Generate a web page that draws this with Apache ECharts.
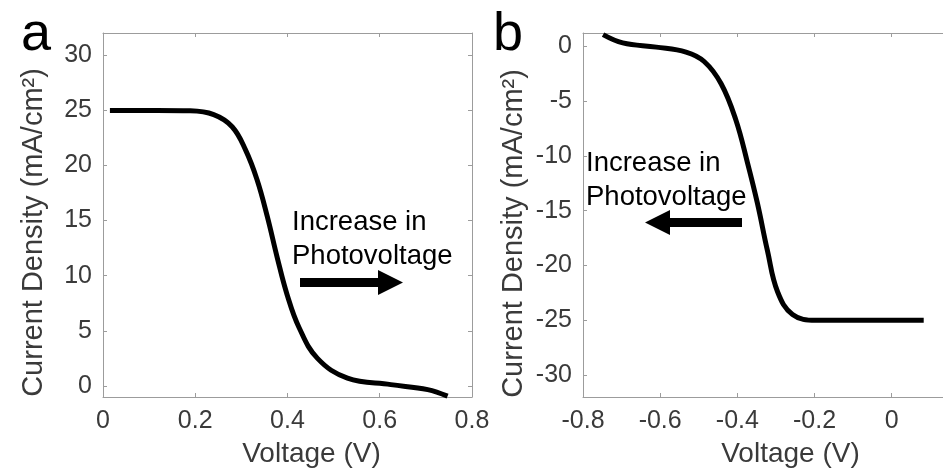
<!DOCTYPE html>
<html>
<head>
<meta charset="utf-8">
<title>Current density vs voltage</title>
<script src="https://cdn.jsdelivr.net/npm/echarts@6/dist/echarts.min.js"></script>
<style>
  html, body { margin: 0; padding: 0; background: #ffffff; }
  #chart { width: 943px; height: 473px; }
</style>
</head>
<body>
<div id="chart"></div>
<script>
// Panel a: photocurrent density (mA/cm^2) against applied voltage (V)
const panelAVoltage = [0.015, 0.117, 0.189, 0.240, 0.280, 0.309, 0.334, 0.356, 0.378, 0.399, 0.425, 0.465, 0.530, 0.624, 0.704, 0.747];
const panelACurrent = [24.97, 24.97, 24.94, 24.6, 23.5, 21.4, 18.7, 15.4, 11.6, 8.3, 5.3, 2.5, 0.71, 0.12, -0.33, -0.92];

// Panel b: the mirrored (cathodic) curve
const panelBVoltage = [-0.748, -0.697, -0.610, -0.533, -0.486, -0.442, -0.404, -0.374, -0.348, -0.322, -0.296, -0.257, -0.197, -0.094, 0.083];
const panelBCurrent = [1.05, 0.30, -0.09, -0.54, -1.40, -3.43, -6.71, -10.59, -14.32, -18.65, -22.38, -24.47, -25.0, -25.0, -25.0];

// Tick values
const panelAXTicks = [0, 0.2, 0.4, 0.6, 0.8];
const panelAYTicks = [0, 5, 10, 15, 20, 25, 30];
const panelBXTicks = [-0.8, -0.6, -0.4, -0.2, 0];
const panelBYTicks = [-30, -25, -20, -15, -10, -5, 0];

const xTitle = 'Voltage (V)';
const yTitle = 'Current Density (mA/cm²)';
const noteText = 'Increase in\nPhotovoltage';

const FONT = "'Liberation Sans', Arial, Helvetica, sans-serif";
const frameColor = '#9c9c9c';
const labelColor = '#3a3a3a';

const zip = (xs, ys) => xs.map((x, i) => [x, ys[i]]);

function axisPair(gridIndex, range, ticks, dim, opts) {
  const common = {
    gridIndex: gridIndex,
    type: 'value',
    min: range[0],
    max: range[1],
    splitLine: { show: false },
    axisLine: { show: true, onZero: false, lineStyle: { color: frameColor, width: 1 } },
    axisTick: { show: true, inside: true, length: 4, customValues: ticks, lineStyle: { color: frameColor, width: 1 } }
  };
  const main = Object.assign({}, common, {
    position: dim === 'x' ? 'bottom' : 'left',
    axisLabel: {
      show: true,
      customValues: ticks,
      color: labelColor,
      fontFamily: FONT,
      fontSize: 25,
      margin: dim === 'x' ? 12 : 11
    },
    name: opts.name,
    nameLocation: 'middle',
    nameGap: opts.nameGap,
    nameTextStyle: {
      color: labelColor,
      fontFamily: FONT,
      fontSize: opts.nameSize,
      padding: opts.namePadding
    }
  });
  const mirror = Object.assign({}, common, {
    position: dim === 'x' ? 'top' : 'right',
    axisLabel: { show: false }
  });
  if (opts.hideMirror) {
    mirror.show = false;
  }
  return [main, mirror];
}

const xAxes = [].concat(
  axisPair(0, [0, 0.8], panelAXTicks, 'x', { name: xTitle, nameGap: 43, nameSize: 28, namePadding: [0, 0, 0, 48] }),
  axisPair(1, [-0.8, 0.133], panelBXTicks, 'x', { name: xTitle, nameGap: 43, nameSize: 28, namePadding: [0, 0, 0, 55] })
);
const yAxes = [].concat(
  axisPair(0, [-1, 32], panelAYTicks, 'y', { name: yTitle, nameGap: 55, nameSize: 29, namePadding: [0, 35, 0, 0] }),
  axisPair(1, [-32, 1.2], panelBYTicks, 'y', { name: yTitle, nameGap: 55, nameSize: 29, namePadding: [0, 37, 0, 0], hideMirror: true })
);

function curve(xIdx, yIdx, xs, ys) {
  return {
    type: 'line',
    xAxisIndex: xIdx,
    yAxisIndex: yIdx,
    data: zip(xs, ys),
    showSymbol: false,
    smooth: 0.4,
    clip: false,
    lineStyle: { color: '#000000', width: 5, join: 'round' },
    z: 5
  };
}

function arrow(tipX, tailX, cy, headLen, headHalf, shaftHalf) {
  const dir = tipX > tailX ? 1 : -1;
  const baseX = tipX - dir * headLen;
  return {
    type: 'polygon',
    shape: {
      points: [
        [tailX, cy - shaftHalf], [baseX, cy - shaftHalf], [baseX, cy - headHalf],
        [tipX, cy], [baseX, cy + headHalf], [baseX, cy + shaftHalf], [tailX, cy + shaftHalf]
      ]
    },
    style: { fill: '#000000' },
    z: 10
  };
}

function label(x, y, text, size, extra) {
  return {
    type: 'text',
    x: x,
    y: y,
    style: Object.assign({
      text: text,
      fill: '#000000',
      font: size + 'px ' + FONT,
      textAlign: 'left',
      textVerticalAlign: 'top'
    }, extra || {}),
    z: 10
  };
}

const chart = echarts.init(document.getElementById('chart'), null, { renderer: 'canvas' });
chart.setOption({
  animation: false,
  backgroundColor: '#ffffff',
  grid: [
    { left: 103, top: 33, width: 369, height: 371, containLabel: false },
    { left: 583, top: 33, right: -1, height: 371, containLabel: false }
  ],
  xAxis: xAxes,
  yAxis: yAxes,
  series: [
    curve(0, 0, panelAVoltage, panelACurrent),
    curve(2, 2, panelBVoltage, panelBCurrent)
  ],
  graphic: [
    label(21, 8, 'a', 54),
    label(493, 8, 'b', 54),
    label(292, 205, noteText, 27.5, { lineHeight: 34 }),
    label(586, 146, noteText, 27.5, { lineHeight: 34 }),
    arrow(403, 300, 282.5, 25, 12.5, 4.5),
    arrow(645, 742, 222.5, 25, 12.5, 4.5)
  ]
});
</script>
</body>
</html>
